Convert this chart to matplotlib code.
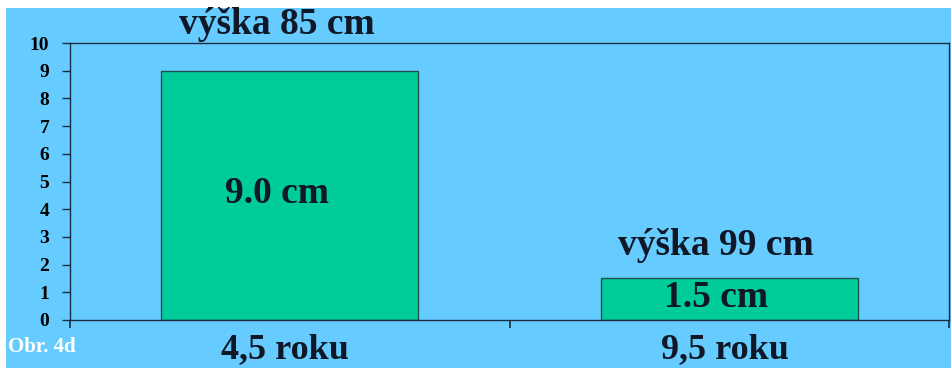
import matplotlib
matplotlib.use("Agg")
import matplotlib.pyplot as plt
from matplotlib.patches import Rectangle

categories = ["4,5 roku", "9,5 roku"]
values = [9.0, 1.5]
value_labels = ["9.0 cm", "1.5 cm"]
height_labels = ["výška 85 cm", "výška 99 cm"]
yticks = [0, 1, 2, 3, 4, 5, 6, 7, 8, 9, 10]
fig_label = "Obr. 4d"

bg = "#66CCFF"
bar_color = "#00CC99"
serif = ["Liberation Serif", "DejaVu Serif"]

fig = plt.figure(figsize=(9.51, 3.68), dpi=100, facecolor="white")
fig.patches.append(Rectangle((6 / 951, 0), 1, (368 - 8) / 368, transform=fig.transFigure,
                             facecolor=bg, edgecolor="none", zorder=-10))
ax = fig.add_axes([70 / 951, 48 / 368, 879 / 951, 277 / 368])
ax.set_facecolor(bg)

x = list(range(len(categories)))
ax.bar(x, values, width=0.585, color=bar_color, edgecolor="#1f4f4f", linewidth=1.0)

ax.set_xlim(-0.5, len(categories) - 0.5)
ax.set_ylim(0, 10)
ax.set_yticks(yticks)
ax.set_yticklabels([str(t) for t in yticks], fontfamily=serif, fontweight="bold", fontsize=14)
ax.tick_params(axis="y", direction="out", length=6, width=1, color="#1a2a40", pad=9)

ax.set_xticks([i - 0.5 for i in range(len(categories) + 1)])
ax.set_xticklabels([])
ax.tick_params(axis="x", direction="out", length=6, width=1.2, color="#1a2a40")
for i, c in enumerate(categories):
    ax.text(i - 0.01, -0.108, c, transform=ax.get_xaxis_transform(), ha="center", va="center",
            fontfamily=serif, fontweight="bold", fontsize=26, color="#101828")

for s in ax.spines.values():
    s.set_color("#1a2a40")
    s.set_linewidth(1.0)

# value labels inside bars
value_y = [4.58, 0.8]
for i, (v, lab) in enumerate(zip(values, value_labels)):
    ax.text(i - 0.03, value_y[i], lab, ha="center", va="center",
            fontfamily=serif, fontweight="bold", fontsize=27, color="#101828")

# height labels above bars
height_pos = [(-0.03, 10.68), (0.97, 2.7)]
for (hx, hy), lab in zip(height_pos, height_labels):
    ax.text(hx, hy, lab, ha="center", va="center", clip_on=False,
            fontfamily=serif, fontweight="bold", fontsize=27, color="#101828")

fig.text(8 / 951, 1 - 347 / 368, fig_label, ha="left", va="center",
         fontfamily=serif, fontweight="bold", fontsize=15, color="white")

fig.savefig("out.png", dpi=100, facecolor="white")
